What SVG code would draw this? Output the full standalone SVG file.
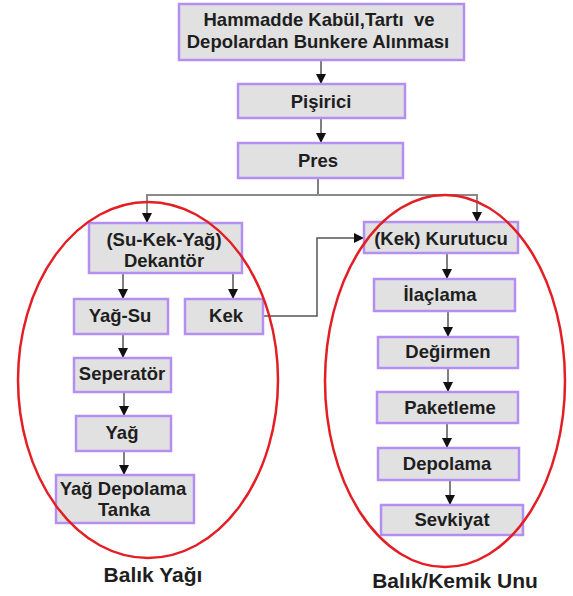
<svg xmlns="http://www.w3.org/2000/svg" width="573" height="596" viewBox="0 0 573 596">
<defs>
<marker id="ah" markerUnits="userSpaceOnUse" markerWidth="10" markerHeight="10" refX="10" refY="5" orient="auto">
<path d="M0,0 L10,5 L0,10 z" fill="#111"/>
</marker>
<style>
.box{fill:#e1e1e1;stroke:#b48ef2;stroke-width:2.5}
.t{font-family:"Liberation Sans",Arial,sans-serif;font-weight:bold;font-size:18.5px;fill:#1e1e1e;text-anchor:middle;white-space:pre}
.lbl{font-family:"Liberation Sans",Arial,sans-serif;font-weight:bold;font-size:21px;fill:#1e1e1e;text-anchor:middle}
.c{fill:none;stroke:#555;stroke-width:1.5}
.a{marker-end:url(#ah)}
.ell{fill:none;stroke:#e31e24;stroke-width:2.5}
</style>
</defs>
<g id="connectors">
<line class="c a" x1="321" y1="60" x2="321" y2="84"/>
<line class="c a" x1="321" y1="118" x2="321" y2="143"/>
<polyline class="c" points="318,178 318,195" />
<polyline class="c a" points="318,195 147,195 147,223" style="stroke:#8a8a8a;stroke-width:2"/>
<polyline class="c a" points="318,195 477,195 477,222" style="stroke:#8a8a8a;stroke-width:2"/>
<line class="c a" x1="123" y1="273" x2="123" y2="299"/>
<line class="c a" x1="233" y1="273" x2="233" y2="299"/>
<line class="c a" x1="123" y1="334" x2="123" y2="358"/>
<line class="c a" x1="124" y1="392" x2="124" y2="416"/>
<line class="c a" x1="124" y1="451" x2="124" y2="475"/>
<polyline class="c a" points="263,316 317,316 317,238 364,238"/>
<line class="c a" x1="447" y1="253" x2="447" y2="279"/>
<line class="c a" x1="448" y1="311" x2="448" y2="337"/>
<line class="c a" x1="448" y1="368" x2="448" y2="392"/>
<line class="c a" x1="447" y1="423" x2="447" y2="448"/>
<line class="c a" x1="450" y1="480" x2="450" y2="505"/>
</g>
<g id="hammadde"><rect class="box" x="179" y="4" width="285" height="56"/><text class="t" x="319" y="26" xml:space="preserve">Hammadde Kabül,Tartı  ve</text><text class="t" x="318" y="48">Depolardan Bunkere Alınması</text></g>
<g id="pisirici"><rect class="box" x="238" y="84" width="167" height="34"/><text class="t" x="321" y="108">Pişirici</text></g>
<g id="pres"><rect class="box" x="238" y="143" width="165" height="35"/><text class="t" x="318" y="167">Pres</text></g>
<g id="dekantor"><rect class="box" x="89" y="223" width="153" height="50"/><text class="t" x="164" y="246">(Su-Kek-Yağ)</text><text class="t" x="164" y="267">Dekantör</text></g>
<g id="yagsu"><rect class="box" x="74" y="299" width="94" height="35"/><text class="t" x="120" y="322">Yağ-Su</text></g>
<g id="kek"><rect class="box" x="185" y="299" width="78" height="35"/><text class="t" x="226" y="322">Kek</text></g>
<g id="seperator"><rect class="box" x="74" y="358" width="97" height="34"/><text class="t" x="122" y="380">Seperatör</text></g>
<g id="yag"><rect class="box" x="76" y="416" width="95" height="35"/><text class="t" x="122" y="439">Yağ</text></g>
<g id="tank"><rect class="box" x="56" y="475" width="138" height="48"/><text class="t" x="123" y="495">Yağ Depolama</text><text class="t" x="124" y="516">Tanka</text></g>
<g id="kurutucu"><rect class="box" x="364" y="222" width="154" height="31"/><text class="t" x="441" y="245">(Kek) Kurutucu</text></g>
<g id="ilaclama"><rect class="box" x="374" y="279" width="141" height="32"/><text class="t" x="440" y="301">İlaçlama</text></g>
<g id="degirmen"><rect class="box" x="378" y="337" width="140" height="31"/><text class="t" x="448" y="358">Değirmen</text></g>
<g id="paketleme"><rect class="box" x="377" y="392" width="141" height="31"/><text class="t" x="450" y="414">Paketleme</text></g>
<g id="depolama"><rect class="box" x="378" y="448" width="141" height="32"/><text class="t" x="447" y="470">Depolama</text></g>
<g id="sevkiyat"><rect class="box" x="381" y="505" width="142" height="30"/><text class="t" x="452" y="526">Sevkiyat</text></g>
<g id="ellipses">
<ellipse class="ell" cx="148" cy="380" rx="130" ry="178"/>
<ellipse class="ell" cx="445" cy="381" rx="120" ry="186"/>
</g>
<g id="labels">
<text class="lbl" x="153" y="582">Balık Yağı</text>
<text class="lbl" x="455" y="588">Balık/Kemik Unu</text>
</g>
</svg>
